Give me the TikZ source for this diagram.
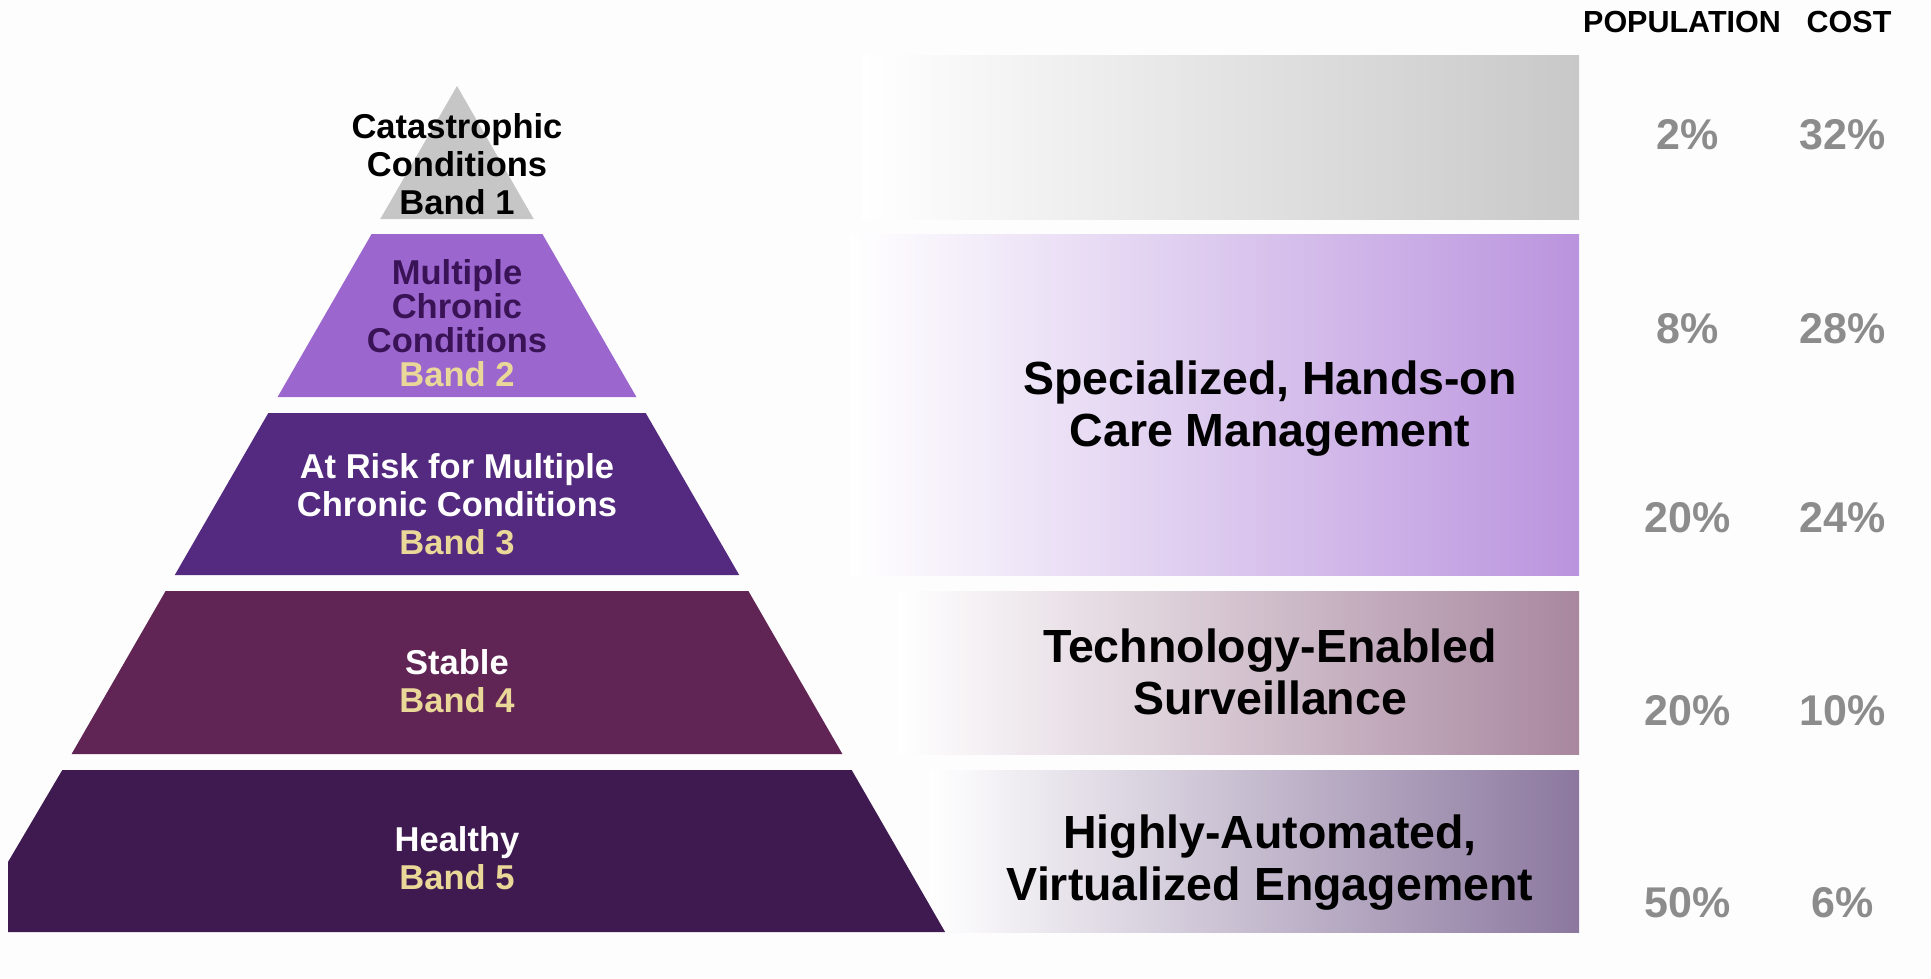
\documentclass[tikz,border=0pt]{standalone}
\usepackage{fontspec}
\setmainfont{Liberation Sans}
\begin{document}
\definecolor{bgc}{HTML}{FDFDFD}
\definecolor{b1c}{HTML}{C6C6C6}
\definecolor{b2c}{HTML}{9B67CF}
\definecolor{b3c}{HTML}{532A7F}
\definecolor{b4c}{HTML}{612555}
\definecolor{b5c}{HTML}{3F1A50}
\definecolor{r1c}{HTML}{C8C8C8}
\definecolor{r2c}{HTML}{BA94DE}
\definecolor{r3c}{HTML}{A8879F}
\definecolor{r4c}{HTML}{8C789F}
\definecolor{goldc}{HTML}{EAD898}
\definecolor{darkpc}{HTML}{3A1357}
\definecolor{pctc}{HTML}{8C8C8C}
\begin{tikzpicture}[x=1pt,y=-1pt,
  ptext/.style={font=\fontsize{34.5}{38}\selectfont\bfseries,align=center,inner sep=0pt},
  ptextb/.style={font=\fontsize{34.5}{34}\selectfont\bfseries,align=center,inner sep=0pt},
  rtext/.style={font=\fontsize{46.5}{52}\selectfont\bfseries,align=center,inner sep=0pt,text=black},
  pct/.style={font=\fontsize{43}{48}\selectfont\bfseries,text=pctc,inner sep=0pt},
  hdr/.style={font=\fontsize{30.5}{32}\selectfont\bfseries,text=black,inner sep=0pt}]
\fill[bgc] (0,0) rectangle (1931,978);
\useasboundingbox (0,0) rectangle (1931,978);
% right gradient boxes
\shade[left color=white,right color=r1c] (862,55) rectangle (1579,219);
\shade[left color=white,right color=r2c] (850,234) rectangle (1579,575);
\shade[left color=white,right color=r3c] (899,591) rectangle (1579,754);
\shade[left color=white,right color=r4c] (930,770) rectangle (1579,932);
% pyramid
\fill[b1c] (457,86) -- (533.7,219) -- (380.3,219) -- cycle;
\fill[b2c] (371.6,234) -- (542.4,234) -- (636.4,397) -- (277.6,397) -- cycle;
\fill[b3c] (268.3,413) -- (645.7,413) -- (739.2,575) -- (174.8,575) -- cycle;
\fill[b4c] (165.6,591) -- (748.4,591) -- (842.4,754) -- (71.6,754) -- cycle;
\fill[b5c] (62.3,770) -- (851.7,770) -- (945.1,932) -- (8,932) -- (8,862) -- cycle;
% pyramid labels
\node[ptext,text=black] (l1) at (457,164) {Catastrophic\\Conditions\\Band 1};
\node[ptextb,text=darkpc] (l2) at (457,323) {Multiple\\Chronic\\Conditions\\\textcolor{goldc}{Band 2}};
\node[ptext,text=white] (l3) at (457,504) {At Risk for Multiple\\Chronic Conditions\\\textcolor{goldc}{Band 3}};
\node[ptext,text=white] (l4) at (457,681) {Stable\\\textcolor{goldc}{Band 4}};
\node[ptext,text=white] (l5) at (457,858) {Healthy\\\textcolor{goldc}{Band 5}};
% right labels
\node[rtext] (t2) at (1270,409) {Specialized, Hands-on\\Care Management};
\node[rtext] (t3) at (1270,672) {Technology-Enabled\\Surveillance};
\node[rtext] (t4) at (1270,863) {Highly-Automated,\\Virtualized Engagement};
% header
\node[hdr] (hp) at (1682,22) {POPULATION};
\node[hdr] (hc) at (1849,22) {COST};
% percentages
\node[pct] (p1) at (1688,135) {2\%};
\node[pct] (c1) at (1843,135) {32\%};
\node[pct] (p2) at (1688,329) {8\%};
\node[pct] (c2) at (1843,329) {28\%};
\node[pct] (p3) at (1688,518) {20\%};
\node[pct] (c3) at (1843,518) {24\%};
\node[pct] (p4) at (1688,711) {20\%};
\node[pct] (c4) at (1843,711) {10\%};
\node[pct] (p5) at (1688,903) {50\%};
\node[pct] (c5) at (1843,903) {6\%};
\end{tikzpicture}
\end{document}
